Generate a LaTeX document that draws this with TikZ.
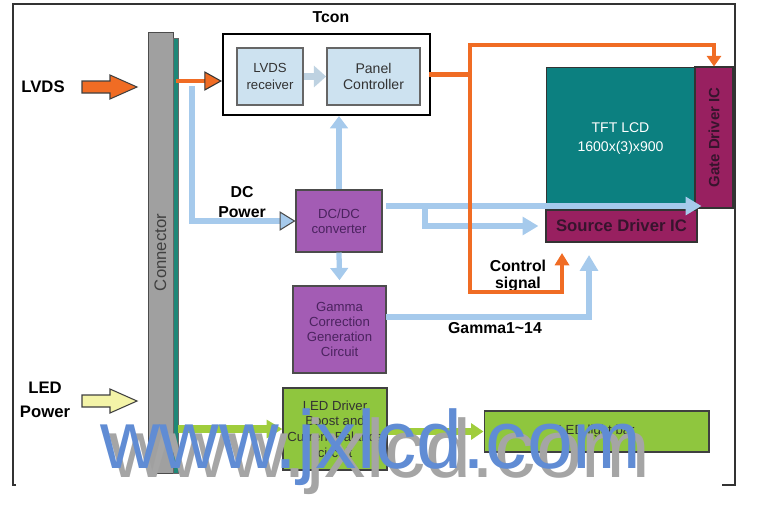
\documentclass[tikz,border=0pt]{standalone}
\usepackage{fontspec}
\setmainfont{Liberation Sans}
\usetikzlibrary{arrows.meta}
\definecolor{lvdsorange}{RGB}{240,108,36}
\definecolor{pwryellow}{RGB}{244,244,168}
\definecolor{lcdteal}{RGB}{12,128,128}
\definecolor{icmaroon}{RGB}{152,32,96}
\definecolor{icdark}{RGB}{55,20,45}
\definecolor{boxpurple}{RGB}{163,92,180}
\definecolor{ptext}{RGB}{75,35,95}
\definecolor{boxgreen}{RGB}{143,198,62}
\definecolor{linegreen}{RGB}{160,205,60}
\definecolor{lineblue}{RGB}{166,202,236}
\definecolor{conngray}{RGB}{160,160,160}
\definecolor{stripteal}{RGB}{30,135,120}
\definecolor{rxfill}{RGB}{205,226,240}
\definecolor{rxarrow}{RGB}{190,210,225}
\definecolor{wmblue}{RGB}{96,140,212}
\definecolor{wmgray}{RGB}{165,165,165}
\tikzset{
  lbl/.style={inner sep=0pt,align=center,font=\bfseries\fontsize{9}{11}\selectfont},
  inbox/.style={draw=black!60,line width=1pt,fill=rxfill,minimum height=1.14cm,inner sep=0pt,
    align=center,text=black!80,font=\fontsize{7.5}{9.5}\selectfont},
  pbox/.style={draw=black!70,line width=0.6pt,fill=boxpurple,inner sep=0pt,align=center,
    text=ptext,font=\fontsize{7.5}{8.5}\selectfont},
  icbox/.style={draw=black!80,line width=0.6pt,fill=icmaroon,inner sep=0pt,text=icdark,
    font=\bfseries\fontsize{9.5}{11}\selectfont},
  gbox/.style={draw=black!75,line width=0.6pt,fill=boxgreen,inner sep=0pt,align=center,
    text=black!80,font=\fontsize{7.5}{9}\selectfont},
  oline/.style={draw=lvdsorange,line width=2.8pt,line cap=rect},
  bline/.style={draw=lineblue,line width=3pt},
  gline/.style={draw=linegreen,line width=4pt},
  wm/.style={anchor=base west,inner sep=0pt,font=\fontsize{47}{47}\selectfont}
}
\begin{document}
\begin{tikzpicture}[x=0.02cm,y=-0.02cm]
    \useasboundingbox (0,0) rectangle (757,511);
    \draw[black!80,line width=0.8pt] (16,485) -| (13,4) -| (735,485) -- (722,485);

    \node[draw=black!70,fill=conngray,minimum width=0.5cm,minimum height=8.82cm,inner sep=0pt,
      label={[rotate=90,text=black!75,font=\fontsize{9.5}{10}\selectfont]center:Connector}] (conn) at (160.5,252.5) {};
    \node[draw=black!60,fill=stripteal,minimum width=0.1cm,minimum height=8.7cm,inner sep=0pt] (strip) at (175.5,255.5) {};

    \node[draw,line width=1.2pt,fill=white,minimum width=4.14cm,minimum height=1.62cm] (tcon) at (326.5,74.5) {};
    \node[lbl] (tconlbl) at (331,17) {Tcon};
    \node[inbox,minimum width=1.32cm] (rx) at (270,76.5) {LVDS\\receiver};
    \node[inbox,minimum width=1.86cm,font=\fontsize{8}{9.5}\selectfont] (pc) at (373.5,76.5) {Panel\\Controller};

    \node[fill=lcdteal,draw=black!80,minimum width=2.98cm,minimum height=2.86cm,inner sep=0pt,align=center,
      text=white,font=\fontsize{8}{11}\selectfont] (lcd) at (620.5,138.5) {TFT LCD\\1600x(3)x900};
    \node[icbox,minimum width=0.76cm,minimum height=2.82cm,
      label={[rotate=90,text=icdark,font=\bfseries\fontsize{8.5}{10}\selectfont]center:Gate Driver IC}] (gate) at (714,137.5) {};
    \node[icbox,minimum width=3.02cm,minimum height=0.64cm] (src) at (621.5,226) {Source Driver IC};

    \node[pbox,minimum width=1.72cm,minimum height=1.24cm] (dcdc) at (339,221) {DC/DC\\converter};
    \node[pbox,minimum width=1.86cm,minimum height=1.74cm] (gam) at (339.5,329.5) {Gamma\\Correction\\Generation\\Circuit};
    \node[gbox,minimum width=2.08cm,minimum height=1.64cm] (led) at (335,429) {LED Driver\\Boost and\\Current Balance\\circuit};
    \node[gbox,minimum width=4.5cm,minimum height=0.82cm] (bar) at (596.5,431.5) {LED light bar};

    \node[lbl,font=\bfseries\fontsize{9.5}{11}\selectfont] (lvds) at (43,87) {LVDS};
    \node[lbl,font=\bfseries\fontsize{9.5}{13.6}\selectfont] (ledpwr) at (45,400) {LED\\Power};
    \node[lbl] (dcpwr) at (242,202) {DC\\Power};
    \node[lbl,font=\bfseries\fontsize{9}{10}\selectfont] (ctlsig) at (518,276) {Control\\signal};
    \node[lbl] (gamlbl) at (495,328) {Gamma1\textasciitilde 14};

    \foreach \y/\c in {87/lvdsorange,401/pwryellow}
    \draw[fill=\c,draw=black!75,line width=0.6pt] (82,\y) ++(0,-6) -- ++(28,0) -- ++(0,-6) -- ++(27,12) -- ++(-27,12) -- ++(0,-6) -- ++(-28,0) -- cycle;

    \coordinate (lvin) at (178,81);
    \coordinate (dcin) at (192,86);
    \coordinate (otop) at (470,45);
    \coordinate (obot) at (470,292);
    \coordinate (ctl) at (562,253);
    \coordinate (pwr) at (386,206);
    \coordinate (brn) at (425,206);
    \coordinate (gout) at (386,317);
    \coordinate (gin) at (589,255);

    \draw[line width=4pt,rxarrow,-{Triangle[length=7pt,width=12pt]}] (rx.east) -- (pc.west);
    \draw[bline,-{Triangle[length=9pt,width=11pt,fill=lineblue,color=black!70,line width=0.6pt]}] (dcin) |- (dcdc.west);
    \draw[bline,-{Triangle[length=7pt,width=10pt]}] (dcdc.north) -- (dcdc.north |- tcon.south);
    \draw[bline,-{Triangle[length=7pt,width=10pt]}] (dcdc.south) -- ([yshift=3pt]gam.north);
    \draw[bline,-{Triangle[length=9pt,width=10pt]}] (pwr) -- ([xshift=4pt]pwr -| gate.west);
    \draw[bline,-{Triangle[length=9pt,width=10pt]}] (brn) |- ([xshift=-4pt]src.west);
    \draw[bline,-{Triangle[length=9pt,width=10pt]}] (gout) -| (gin);

    \draw[oline,-{Triangle[length=10pt,width=11pt,fill=lvdsorange,color=black!80,line width=0.6pt]}] (lvin) -- (lvin -| tcon.west);
    \draw[oline] (tcon.east) -- (tcon.east -| otop);
    \draw[oline,-{Triangle[length=6pt,width=8pt]}] (obot) -- (otop) -| (gate.north);
    \draw[oline,-{Triangle[length=7pt,width=8pt]}] (obot) -| (ctl);

    \draw[gline,-{Triangle[length=9pt,width=10pt]}] (strip.east |- led.west) -- (led.west);
    \draw[gline,-{Triangle[length=7pt,width=9pt]}] (led.east |- bar.west) -- (bar.west);

    \node[wm,text=wmgray] (wmshadow) at (109,477) {www.jxlcd.com};
    \node[wm,text=wmblue] (wm) at (100,468) {www.jxlcd.com};
\end{tikzpicture}
\end{document}
